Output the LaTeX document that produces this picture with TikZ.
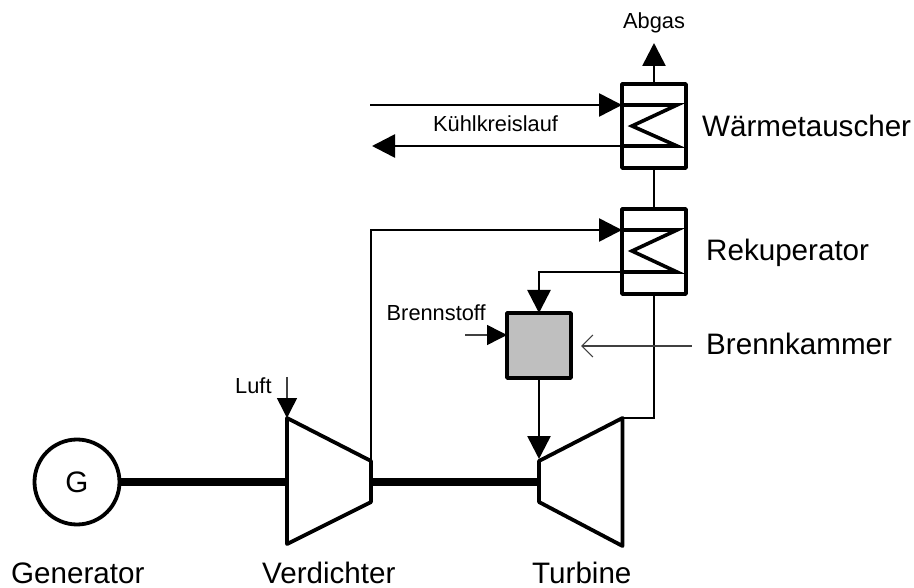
\documentclass[tikz,border=0pt]{standalone}
\usepackage{fontspec}
\setmainfont{Liberation Sans}
\usetikzlibrary{arrows.meta}
\tikzset{
  box/.style={draw=black,line width=3.8pt,line join=round,inner sep=0pt,outer sep=0pt},
  machine/.style={draw=black,line width=3.8pt,line join=round},
  pipe/.style={draw=black,line width=2.6pt},
  coil/.style={draw=black,line width=3.6pt,line join=miter,line cap=round},
  shaft/.style={draw=black,line width=8pt},
  bighead/.style={-{Triangle[length=23pt,width=23pt]}},
  smallhead/.style={-{Triangle[length=20pt,width=20pt,color=black,fill=black]}},
  thinpipe/.style={draw=black!75,line width=1.5pt},
  big/.style={font=\fontsize{29.6pt}{32pt}\selectfont,anchor=base west,inner sep=0pt},
  small/.style={font=\fontsize{21.8pt}{24pt}\selectfont,anchor=base west,inner sep=0pt},
}
\begin{document}
\begin{tikzpicture}[x=1pt,y=-1pt]
\useasboundingbox (0,0) rectangle (914,588);
% components
\node[box,minimum width=64pt,minimum height=84pt] (hxa) at (654,126) {};
\node[box,minimum width=64pt,minimum height=85pt] (hxb) at (654,251.5) {};
\node[box,fill=black!25,minimum width=64pt,minimum height=65pt] (bk) at (539,345.5) {};
\node[draw=black,line width=3.8pt,circle,inner sep=0pt,outer sep=0pt,minimum size=85pt,font=\fontsize{29.6pt}{32pt}\selectfont] (gen) at (77,482) {G};
% machine corners
\coordinate (vtl) at (287,418);
\coordinate (vbl) at (287,544);
\coordinate (vtr) at (371,461);
\coordinate (vbr) at (371,502);
\coordinate (ttl) at (539,461);
\coordinate (tbl) at (539,502);
\coordinate (ttr) at (622.5,418);
\coordinate (tbr) at (622.5,546);
% free ends and junctions
\coordinate (abgas) at (654,43);
\coordinate (kin) at (370,105);
\coordinate (kinh) at (622,105);
\coordinate (kout) at (372,146);
\coordinate (kouth) at (622,146);
\coordinate (rin) at (622,230);
\coordinate (rout) at (677,272);
\coordinate (fuel) at (465,335);
\coordinate (fuelh) at (507,335);
\coordinate (air) at (287,377);
\coordinate (vshaft) at (287,482);
\coordinate (vshaftr) at (371,482);
\coordinate (tshaft) at (539,482);
\coordinate (ptr) at (691.5,346);
\coordinate (ptrh) at (581,346);
% machines
\draw[machine] (vtl) -- (vtr) -- (vbr) -- (vbl) -- cycle;
\draw[machine] (ttl) -- (ttr) -- (tbr) -- (tbl) -- cycle;
% shafts
\draw[shaft] (gen.east) -- (vshaft);
\draw[shaft] (vshaftr) -- (tshaft);
% coils
\draw[coil] (kinh) -- (677,105) -- (632,126) -- (677,146) -- (kouth);
\draw[coil] (rin) -- (677,230) -- (632,251) -- (rout) -- (622,272);
% connectors
\draw[pipe,bighead] (hxa.north) -- (abgas);
\draw[pipe,bighead] (kin) -- (kinh);
\draw[pipe,bighead] (kouth) -- (kout);
\draw[pipe] (hxb.north) -- (hxa.south);
\draw[pipe,bighead] (vtr) -- (371,230) -- (rin);
\draw[pipe,bighead] (622,272) -- (bk.north |- rout) -- (bk.north);
\draw[pipe] (ttr) -- (hxb.south |- ttr) -- (hxb.south);
\draw[pipe,bighead] (bk.south) -- (ttl |- 0,459);
\draw[thinpipe,smallhead] (fuel) -- (fuelh);
\draw[thinpipe,smallhead] (air) -- (vtl);
\draw[thinpipe,-{Straight Barb[length=11pt,width=22pt,line width=1.2pt]}] (ptr) -- (ptrh);
% labels
\node[small] (labgas) at (623,29) {Abgas};
\node[small] (lkuehl) at (433,132) {Kühlkreislauf};
\node[small] (lbrenn) at (386.5,321) {Brennstoff};
\node[small] (lluft) at (235,394) {Luft};
\node[big] (lwt) at (702,137) {Wärmetauscher};
\node[big] (lrek) at (706,261) {Rekuperator};
\node[big] (lbk) at (706,355) {Brennkammer};
\node[big] (lgen) at (11,583) {Generator};
\node[big] (lver) at (262,583) {Verdichter};
\node[big] (ltur) at (532,583) {Turbine};
\end{tikzpicture}
\end{document}
